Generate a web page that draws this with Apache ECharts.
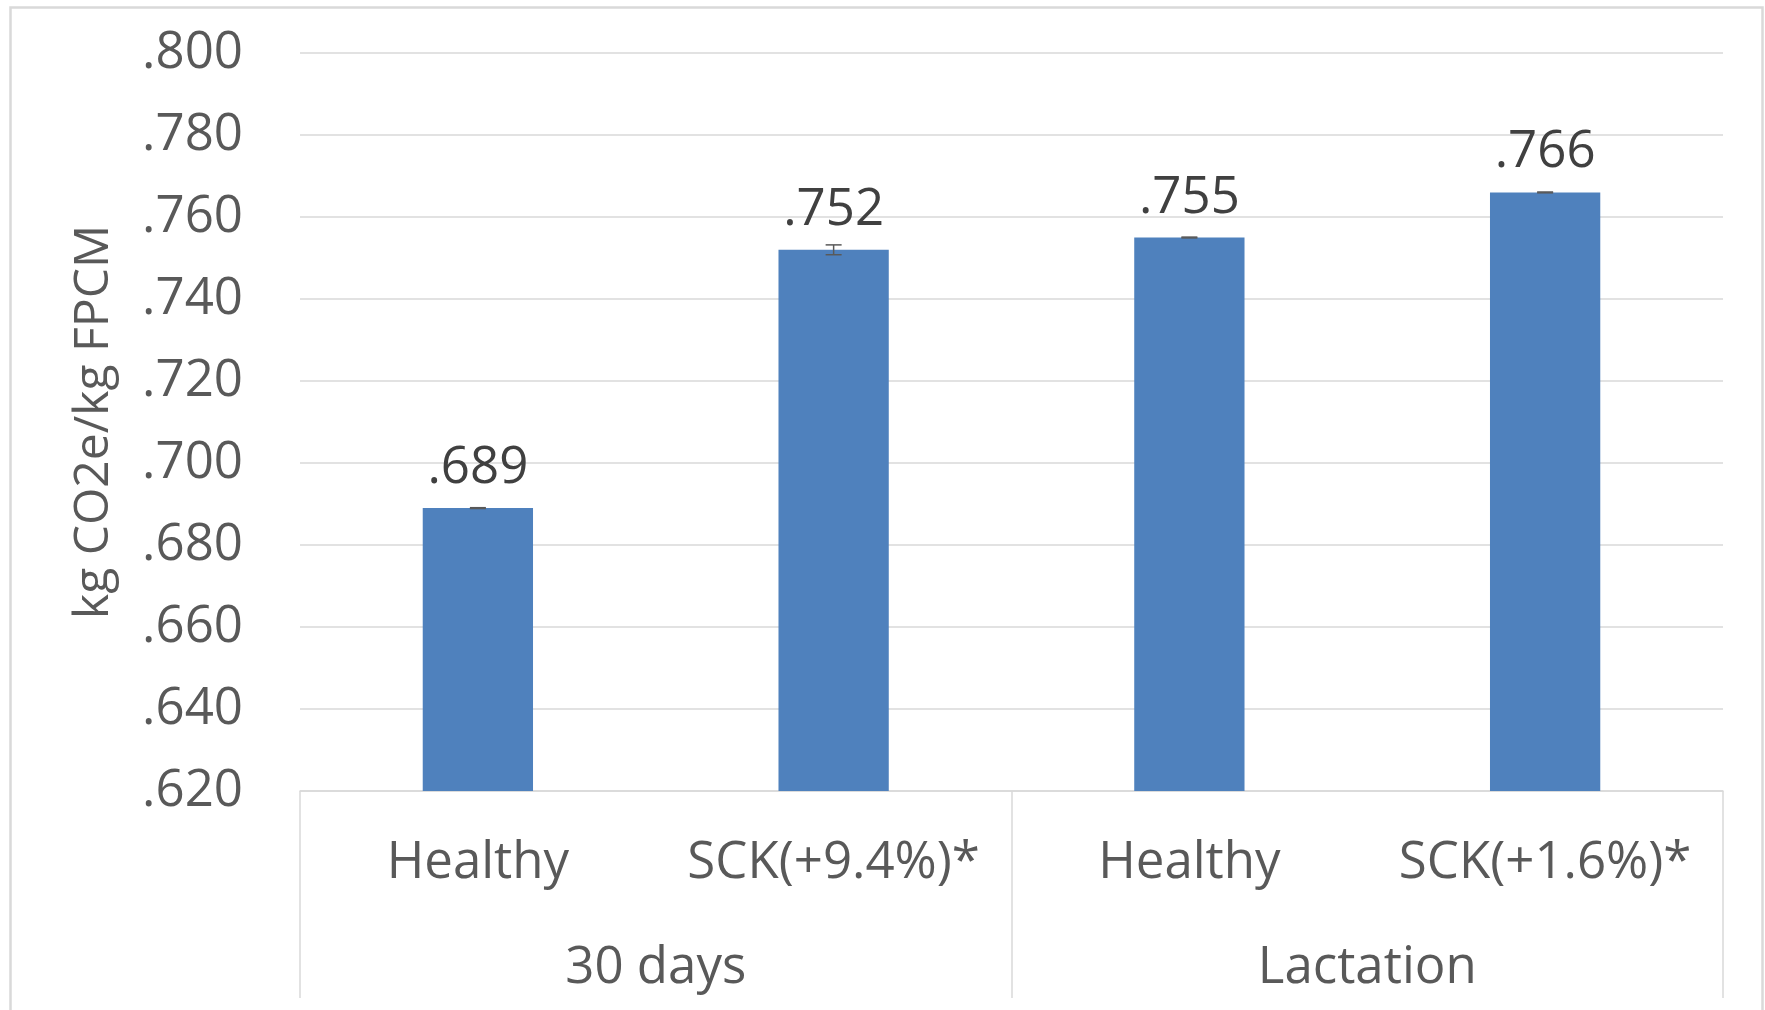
<!DOCTYPE html>
<html>
<head>
<meta charset="utf-8">
<script src="https://cdn.jsdelivr.net/npm/echarts@6/dist/echarts.min.js"></script>
<style>
  html, body { margin: 0; padding: 0; background: #ffffff; }
  #chart { width: 1765px; height: 1010px; }
</style>
</head>
<body>
<div id="chart"></div>
<script>
// Carbon footprint per kg of fat-and-protein-corrected milk
const categories = ['Healthy', 'SCK(+9.4%)*', 'Healthy', 'SCK(+1.6%)*'];
const groups = ['30 days', 'Lactation'];
const values = [0.689, 0.752, 0.755, 0.766];
const errors = [0.0001, 0.0012, 0.0001, 0.0001];
const yTicks = ['.620', '.640', '.660', '.680', '.700', '.720', '.740', '.760', '.780', '.800'];

const FONT = '"Open Sans", "Noto Sans", sans-serif';
const AXIS_GRAY = '#d9d9d9';
const TEXT_GRAY = '#595959';
const BAR_BLUE = '#4f81bd';

const Y_MIN = 0.62, Y_MAX = 0.8, Y_STEP = 0.02;

function fmt3(v) {
  return v.toFixed(3).replace(/^0/, '');
}

const chart = echarts.init(document.getElementById('chart'), null, { renderer: 'canvas' });

chart.setOption({
  backgroundColor: '#ffffff',
  animation: false,
  textStyle: { fontFamily: FONT },
  graphic: [{
    type: 'rect',
    left: 8, top: 5,
    shape: { width: 1752, height: 1100 },
    style: { fill: 'none', stroke: AXIS_GRAY, lineWidth: 2.5 },
    silent: true
  }],
  grid: { left: 300, right: 42, top: 53, bottom: 219, containLabel: false },
  xAxis: [{
    type: 'category',
    data: categories,
    position: 'bottom',
    axisLine: { show: true, lineStyle: { color: AXIS_GRAY, width: 1.5 } },
    axisTick: { show: false },
    axisLabel: {
      interval: 0, margin: 47, color: TEXT_GRAY,
      fontSize: 51, fontFamily: FONT
    },
    splitLine: { show: false }
  }, {
    type: 'category',
    data: groups,
    position: 'bottom',
    axisLine: { show: false },
    axisTick: {
      show: true, interval: 0, alignWithLabel: false, length: 207,
      lineStyle: { color: AXIS_GRAY, width: 1.5 }
    },
    axisLabel: {
      interval: 0, margin: 152, color: TEXT_GRAY,
      fontSize: 51, fontFamily: FONT
    },
    splitLine: { show: false }
  }],
  yAxis: {
    type: 'value',
    min: Y_MIN, max: Y_MAX, interval: Y_STEP,
    name: 'kg CO2e/kg FPCM',
    nameLocation: 'middle',
    nameRotate: 90,
    nameGap: 182,
    nameTextStyle: { color: TEXT_GRAY, fontSize: 48, fontFamily: FONT },
    axisLine: { show: false },
    axisTick: { show: false },
    axisLabel: {
      margin: 57, color: TEXT_GRAY, fontSize: 51, fontFamily: FONT,
      formatter: function (v) {
        const idx = Math.round((v - Y_MIN) / Y_STEP);
        return yTicks[idx] !== undefined ? yTicks[idx] : fmt3(v);
      }
    },
    splitLine: { show: true, lineStyle: { color: AXIS_GRAY, width: 1.5 } }
  },
  series: [{
    type: 'bar',
    xAxisIndex: 0,
    data: values,
    barWidth: '31%',
    itemStyle: { color: BAR_BLUE },
    label: {
      show: true, position: 'top', distance: 14,
      color: '#404040', fontSize: 51, fontFamily: FONT,
      formatter: function (p) { return fmt3(p.value); }
    },
    z: 2
  }, {
    type: 'custom',
    xAxisIndex: 0,
    data: values.map(function (v, i) { return [i, v, errors[i]]; }),
    renderItem: function (params, api) {
      const i = api.value(0), v = api.value(1), e = api.value(2);
      const hi = api.coord([i, v + e]);
      const lo = api.coord([i, v - e]);
      const half = 8;
      const style = { stroke: '#595959', lineWidth: 1.5 };
      return {
        type: 'group',
        children: [
          { type: 'line', shape: { x1: hi[0], y1: hi[1], x2: lo[0], y2: lo[1] }, style: style },
          { type: 'line', shape: { x1: hi[0] - half, y1: hi[1], x2: hi[0] + half, y2: hi[1] }, style: style },
          { type: 'line', shape: { x1: lo[0] - half, y1: lo[1], x2: lo[0] + half, y2: lo[1] }, style: style }
        ]
      };
    },
    z: 3
  }]
});
</script>
</body>
</html>
